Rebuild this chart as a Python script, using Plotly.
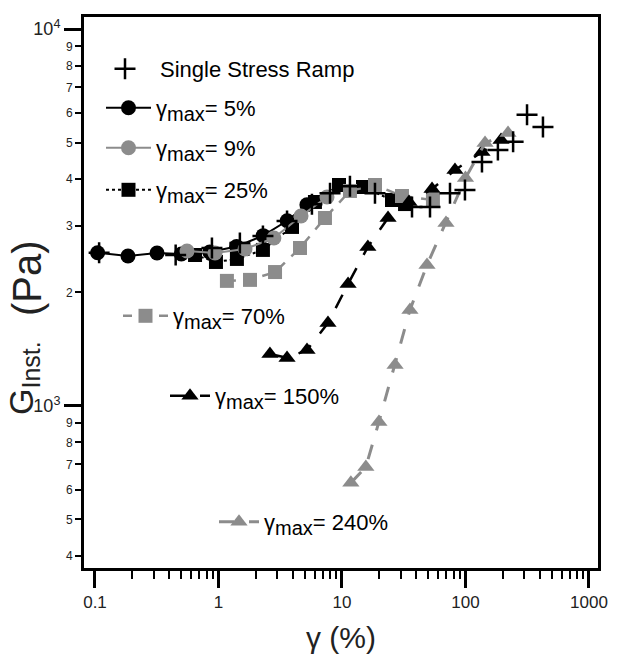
import plotly.graph_objects as go

# ---------------- data ----------------
ramp_x = [0.108, 0.45, 0.885, 1.49, 2.29, 3.59, 5.71, 8.0, 11.6, 18.5, 36.9, 51.6, 74.9, 99, 136, 183, 243, 315, 424]
ramp_y = [2550, 2515, 2625, 2705, 2825, 3095, 3430, 3670, 3830, 3670, 3370, 3370, 3670, 3740, 4440, 4780, 5020, 5920, 5500]

g5_x = [0.105, 0.185, 0.318, 0.5, 0.85, 1.4, 2.3, 3.6, 5.2]
g5_y = [2550, 2500, 2546, 2530, 2560, 2650, 2830, 3100, 3420]

g9_x = [0.556, 0.937, 1.64, 2.81, 4.66, 7.56]
g9_y = [2577, 2546, 2609, 2790, 3190, 3584]

g25_x = [0.646, 0.954, 1.41, 2.29, 3.94, 6.04, 9.46, 14.8, 25.4, 32.4]
g25_y = [2515, 2410, 2455, 2594, 2985, 3477, 3857, 3810, 3519, 3433]

g70_x = [1.17, 1.80, 2.87, 4.57, 7.28, 11.6, 18.5, 30.6, 54.5]
g70_y = [2147, 2160, 2266, 2625, 3153, 3719, 3857, 3606, 3519]

g150_x = [2.61, 3.59, 5.21, 7.7, 11.2, 16.2, 23.6, 34.9, 53.6, 82.2, 136, 194]
g150_y = [1374, 1341, 1408, 1660, 2107, 2641, 3153, 3477, 3763, 4227, 4716, 5076]

g240_x = [11.8, 15.6, 19.9, 26.9, 35.5, 48.8, 69.5, 100, 144, 221]
g240_y = [625, 689, 907, 1285, 1797, 2366, 3058, 4024, 4985, 5299]

SUB = "γ<sub><span style='font-size:20px'>max</span></sub>= "
names = {
    "ramp": "Single Stress Ramp",
    "g5": SUB + "5%",
    "g9": SUB + "9%",
    "g25": SUB + "25%",
    "g70": SUB + "70%",
    "g150": SUB + "150%",
    "g240": SUB + "240%",
}

x_major = [0.1, 1, 10, 100, 1000]
x_major_text = ["0.1", "1", "10", "100", "1000"]
x_minor = [m * d for d in [0.1, 1, 10, 100] for m in range(2, 10)]
y_major = [1000, 10000]
y_major_text = ["10<sup>3</sup>", "10<sup>4</sup>"]
y_minor = [400, 500, 600, 700, 800, 900, 2000, 3000, 4000, 5000, 6000, 7000, 8000, 9000]
y_minor_text = ["4", "5", "6", "7", "8", "9", "2", "3", "4", "5", "6", "7", "8", "9"]
y_title_a = "G<sub><span style='font-size:25px'>Inst.</span></sub>"
y_title_b = "(Pa)"

BLACK = "#000000"
GREY = "#8c8c8c"
FONT = "Liberation Sans, Arial, sans-serif"

fig = go.Figure()

fig.add_trace(go.Scatter(x=g5_x, y=g5_y, name=names["g5"], mode="lines+markers",
                         line=dict(color=BLACK, width=2),
                         marker=dict(symbol="circle", size=15, color=BLACK), legend="legend2"))
fig.add_trace(go.Scatter(x=g25_x, y=g25_y, name=names["g25"], mode="lines+markers",
                         line=dict(color=BLACK, width=2, dash="dot"),
                         marker=dict(symbol="square", size=14, color=BLACK), legend="legend4"))
fig.add_trace(go.Scatter(x=g9_x, y=g9_y, name=names["g9"], mode="lines+markers",
                         line=dict(color=GREY, width=2),
                         marker=dict(symbol="circle", size=15, color=GREY), legend="legend3"))
fig.add_trace(go.Scatter(x=g70_x, y=g70_y, name=names["g70"], mode="lines+markers",
                         line=dict(color=GREY, width=2.5, dash="dash"),
                         marker=dict(symbol="square", size=14, color=GREY), legend="legend5"))
fig.add_trace(go.Scatter(x=g150_x, y=g150_y, name=names["g150"], mode="lines+markers",
                         line=dict(color=BLACK, width=2.5, dash="longdash"),
                         marker=dict(symbol="triangle-up", size=15, color=BLACK), legend="legend6"))
fig.add_trace(go.Scatter(x=g240_x, y=g240_y, name=names["g240"], mode="lines+markers",
                         line=dict(color=GREY, width=3, dash="longdash"),
                         marker=dict(symbol="triangle-up", size=15, color=GREY), legend="legend7"))
fig.add_trace(go.Scatter(x=ramp_x, y=ramp_y, name=names["ramp"], mode="markers",
                         marker=dict(symbol="cross-thin", size=15, color=BLACK,
                                     line=dict(color=BLACK, width=2.5)), legend="legend"))

# legend placement helpers (paper coords of plot area)
L, R, T, B = 84, 598, 17, 568
def px2x(p):
    return (p - L) / (R - L)
def py2y(p):
    return (B - p) / (B - T)

def leg(xpx, ypx, iw):
    return dict(x=px2x(xpx), y=py2y(ypx), xanchor="left", yanchor="middle",
                bgcolor="rgba(0,0,0,0)", borderwidth=0, itemwidth=iw,
                font=dict(family=FONT, size=22, color="black"))

fig.update_layout(
    width=637, height=665,
    margin=dict(l=L, r=637 - R, t=T, b=665 - B),
    paper_bgcolor="white", plot_bgcolor="white",
    font=dict(family=FONT, color="black"),
    legend=leg(90, 69, 60),
    legend2=leg(101, 108, 45),
    legend3=leg(101, 148, 45),
    legend4=leg(101, 190, 45),
    legend5=leg(118, 316, 45),
    legend6=leg(165, 396, 40),
    legend7=leg(214, 522, 40),
    xaxis=dict(type="log", range=[-1.089, 3.073],
               tickmode="array", tickvals=x_major, ticktext=x_major_text,
               ticks="outside", ticklen=17, tickwidth=2.5, tickcolor="black",
               tickfont=dict(size=17, color="#222"),
               minor=dict(tickmode="array", tickvals=x_minor, ticks="outside",
                          ticklen=8, tickwidth=2, tickcolor="black", showgrid=False),
               showgrid=False, zeroline=False,
               showline=True, linewidth=3, linecolor="black", mirror=True,
               title=dict(text="γ (%)", font=dict(size=30, color="#222"), standoff=16)),
    yaxis=dict(type="log", range=[2.570, 4.032],
               tickmode="array", tickvals=y_major, ticktext=y_major_text,
               ticks="outside", ticklen=17, tickwidth=2.5, tickcolor="black",
               tickfont=dict(size=18, color="#222"),
               showgrid=False, zeroline=False,
               showline=True, linewidth=3, linecolor="black", mirror=True),
    yaxis2=dict(type="log", range=[2.570, 4.032], overlaying="y", side="left", anchor="x",
                tickmode="array", tickvals=y_minor, ticktext=y_minor_text,
                ticks="outside", ticklen=8, tickwidth=2, tickcolor="black",
                tickfont=dict(size=12, color="#222"),
                showgrid=False, zeroline=False, showline=False),
    annotations=[
        dict(text=y_title_a, xref="paper", yref="paper",
             x=px2x(23), y=py2y(378), xanchor="center", yanchor="middle",
             textangle=-90, showarrow=False,
             font=dict(family=FONT, size=34, color="#222")),
        dict(text=y_title_b, xref="paper", yref="paper",
             x=px2x(27), y=py2y(278), xanchor="center", yanchor="middle",
             textangle=-90, showarrow=False,
             font=dict(family=FONT, size=40, color="#222")),
    ],
)

# invisible trace to activate yaxis2
fig.add_trace(go.Scatter(x=[1], y=[1000], yaxis="y2", mode="markers",
                         marker=dict(opacity=0), showlegend=False, hoverinfo="skip"))

fig.write_html("out.html")
